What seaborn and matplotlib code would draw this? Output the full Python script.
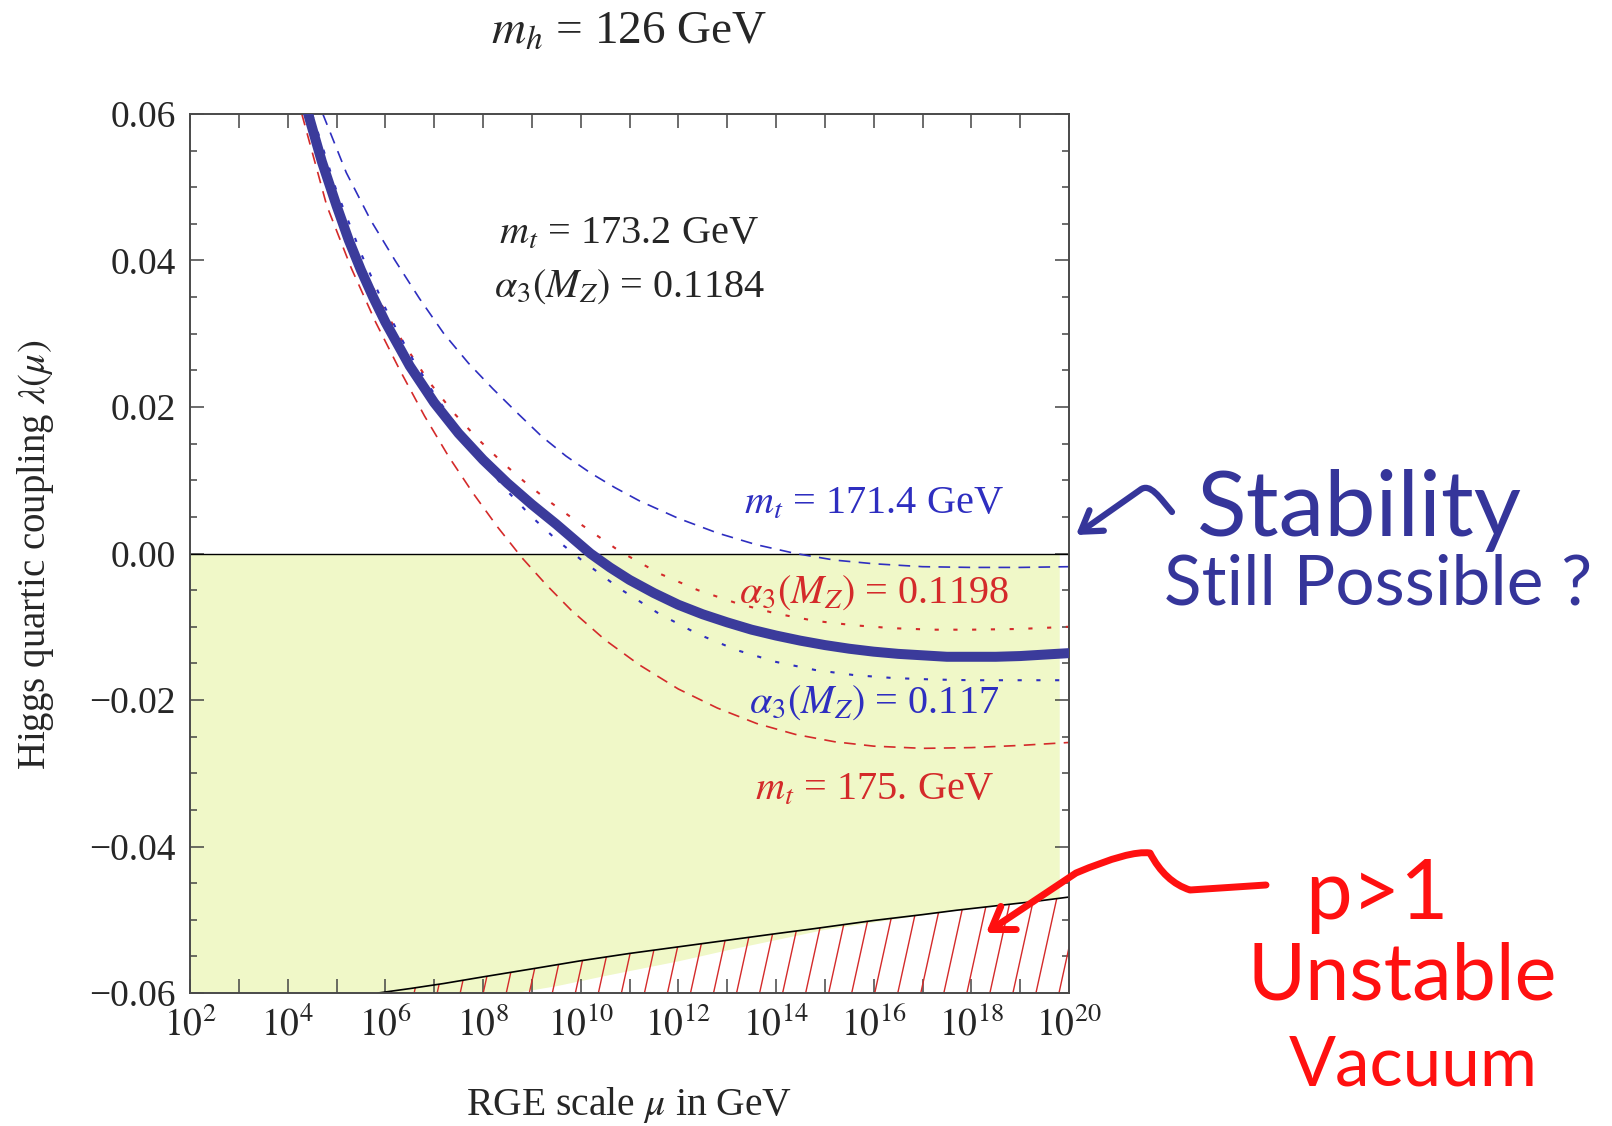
import numpy as np
import matplotlib
matplotlib.use("Agg")
import matplotlib.pyplot as plt
import seaborn as sns
from matplotlib.path import Path
from matplotlib.patches import FancyArrowPatch, Polygon
from matplotlib.collections import LineCollection
from matplotlib.ticker import NullLocator

# ---------------- data (log10 of mu in GeV, lambda) ----------------
central_exp = [4.42, 4.7, 5.0, 5.25, 5.5, 5.75, 6.0, 6.5, 7.0, 7.5, 8.0, 8.5, 9.0, 9.5, 9.85, 10.2,
               10.6, 11.0, 11.5, 12.0, 12.5, 13.0, 13.5, 14.0, 14.5, 15.0, 15.5, 16.0, 16.5, 17.0,
               17.5, 18.0, 18.5, 19.0, 19.5, 20.0]
central_lam = [0.060, 0.0535, 0.0475, 0.0428, 0.0387, 0.0350, 0.0316, 0.0256, 0.0206, 0.0164, 0.0128,
               0.0096, 0.0067, 0.0040, 0.0020, 0.0, -0.0019, -0.0036, -0.0054, -0.0070, -0.0083,
               -0.0094, -0.0104, -0.0112, -0.0119, -0.0125, -0.0130, -0.0134, -0.0137, -0.0139,
               -0.0141, -0.0141, -0.0141, -0.0140, -0.0138, -0.0136]

mt_low_exp = [4.72, 5.2, 5.7, 6.2, 6.7, 7.2, 7.7, 8.2, 8.7, 9.2, 9.7, 10.2, 10.7, 11.2, 12.0, 12.8,
              13.6, 14.4, 15.2, 16.0, 17.0, 18.0, 19.0, 20.0]
mt_low_lam = [0.060, 0.0520, 0.0455, 0.0400, 0.0348, 0.0300, 0.0260, 0.0225, 0.0192, 0.0160, 0.0133,
              0.0110, 0.0090, 0.0072, 0.0048, 0.0028, 0.0012, 0.0, -0.0009, -0.0014, -0.0018, -0.0019,
              -0.0019, -0.0018]

mt_high_exp = [4.29, 4.8, 5.3, 5.8, 6.3, 6.8, 7.3, 7.8, 8.3, 8.8, 9.3, 9.8, 10.5, 11.2, 12.0, 12.8,
               13.6, 14.4, 15.2, 16.0, 17.0, 18.0, 19.0, 20.0]
mt_high_lam = [0.060, 0.0475, 0.0390, 0.0316, 0.0250, 0.0188, 0.0132, 0.0082, 0.0036, -0.0006, -0.0043,
               -0.0077, -0.0118, -0.0152, -0.0185, -0.0211, -0.0232, -0.0247, -0.0257, -0.0263, -0.0266,
               -0.0265, -0.0262, -0.0258]

as_high_exp = [4.38, 4.9, 5.4, 5.9, 6.4, 6.9, 7.4, 7.9, 8.4, 8.9, 9.4, 10.0, 10.8, 11.6, 12.4, 13.2,
               14.0, 14.8, 15.6, 16.4, 17.2, 18.0, 19.0, 20.0]
as_high_lam = [0.060, 0.0490, 0.0410, 0.0342, 0.0284, 0.0234, 0.0192, 0.0156, 0.0124, 0.0095, 0.0069,
               0.0040, 0.0003, -0.0027, -0.0050, -0.0068, -0.0082, -0.0092, -0.0098, -0.0102, -0.0104,
               -0.0104, -0.0103, -0.0100]

as_low_exp = [4.5, 5.0, 5.5, 6.0, 6.5, 7.0, 7.5, 8.0, 8.5, 9.0, 9.5, 10.0, 10.8, 11.6, 12.4, 13.2,
              14.0, 14.8, 15.6, 16.4, 17.2, 18.0, 19.0, 20.0]
as_low_lam = [0.060, 0.0495, 0.0410, 0.0335, 0.0272, 0.0218, 0.0170, 0.0125, 0.0085, 0.0050, 0.0019,
              -0.0008, -0.0048, -0.0082, -0.0110, -0.0132, -0.0148, -0.0159, -0.0166, -0.0170, -0.0172,
              -0.0173, -0.0173, -0.0173]

unstable_exp = [5.85, 6.5, 7.2, 8.0, 9.1, 10.0, 11.0, 12.0, 13.0, 14.0, 14.8, 16.0, 17.0, 17.7, 18.5,
                19.3, 20.0]
unstable_lam = [-0.060, -0.0594, -0.0587, -0.0578, -0.0566, -0.0556, -0.0546, -0.0537, -0.0528, -0.0519,
                -0.0512, -0.0501, -0.0493, -0.0487, -0.0481, -0.0475, -0.0469]

yellow_exp = [2.0, 8.6, 9.5, 10.5, 12.0, 13.0, 14.0, 15.0, 16.5, 18.0, 19.8]
yellow_low = [-0.060, -0.060, -0.0590, -0.0576, -0.0556, -0.0541, -0.0527, -0.0513, -0.0498, -0.0484, -0.0470]

xtick_exp = list(range(2, 21))
xtick_labels = [r"$10^{%d}$" % e if e % 2 == 0 else "" for e in xtick_exp]
ytick_vals = [-0.06, -0.04, -0.02, 0.0, 0.02, 0.04, 0.06]
ytick_labels = ["\u22120.06", "\u22120.04", "\u22120.02", "0.00", "0.02", "0.04", "0.06"]

# ---------------- style ----------------
sns.set_theme(style="ticks")
plt.rcParams["font.family"] = ["Liberation Serif", "DejaVu Serif"]
plt.rcParams["mathtext.fontset"] = "stix"

W, H = 1612, 1126
fig = plt.figure(figsize=(W / 100, H / 100), dpi=100)
fig.patch.set_facecolor("white")
ax = fig.add_axes([190 / W, 1 - 993 / H, 879 / W, 879 / H])
ax.set_facecolor("white")

NAVY = "#3b3b9b"
BLUE = "#2e2ec0"
RED = "#d42a2a"
YELLOW = "#f0f8c8"

mu = lambda e: 10.0 ** np.asarray(e, dtype=float)

# yellow unstable band
ax.fill_between(mu(yellow_exp), yellow_low, 0.0, color=YELLOW, lw=0, zorder=0)

# hatched region
hatch_poly = Polygon(np.column_stack([mu(unstable_exp + [20.0, 5.85]),
                                      unstable_lam + [-0.06, -0.06]]),
                     closed=True, facecolor="none", edgecolor="none", zorder=0.5,
                     transform=ax.transData)
ax.add_patch(hatch_poly)
segs = []
for c in np.arange(-0.4, 1.05, 0.0262):
    segs.append([(c, 0.0), (c + 0.22, 1.0)])
lc = LineCollection(segs, colors=RED, linewidths=1.0, transform=ax.transAxes, zorder=0.6)
ax.add_collection(lc)
lc.set_clip_path(hatch_poly)
sns.lineplot(x=mu(unstable_exp), y=unstable_lam, ax=ax, color="black", lw=1.2, zorder=1, sort=False)

ax.axhline(0.0, color="black", lw=1.0, zorder=1)

# curves
sns.lineplot(x=mu(mt_low_exp), y=mt_low_lam, ax=ax, color=BLUE, lw=1.2, linestyle=(0, (7, 5)), zorder=2)
sns.lineplot(x=mu(mt_high_exp), y=mt_high_lam, ax=ax, color=RED, lw=1.2, linestyle=(0, (7, 5)), zorder=2)
sns.lineplot(x=mu(as_high_exp), y=as_high_lam, ax=ax, color=RED, lw=1.5, linestyle=(0, (2, 7)), zorder=2)
sns.lineplot(x=mu(as_low_exp), y=as_low_lam, ax=ax, color=BLUE, lw=1.5, linestyle=(0, (2, 7)), zorder=2)
sns.lineplot(x=mu(central_exp), y=central_lam, ax=ax, color=NAVY, lw=7.2, zorder=3,
             solid_joinstyle="round")

# axes
ax.set_xscale("log")
ax.set_xlim(1e2, 1e20)
ax.set_ylim(-0.06, 0.06)
ax.set_xticks(mu(xtick_exp))
ax.set_xticklabels(xtick_labels)
ax.xaxis.set_minor_locator(NullLocator())
ax.set_yticks(ytick_vals)
ax.set_yticklabels(ytick_labels)
ax.set_yticks(np.arange(-0.06, 0.0601, 0.005), minor=True)
ax.tick_params(axis="both", which="both", direction="in", top=True, right=True,
               color="#444444", width=1.1)
ax.tick_params(axis="x", which="major", length=10, labelsize=27, pad=10)
ax.tick_params(axis="y", which="major", length=10, labelsize=27, pad=10)
ax.tick_params(axis="y", which="minor", length=5)
for s in ax.spines.values():
    s.set_color("#4a4a4a")
    s.set_linewidth(1.4)
ax.set_xlabel("")
ax.set_ylabel("")

# titles and labels
fig.text(629 / W, 1 - 31 / H, r"$m_h$ = 126 GeV", ha="center", va="center", fontsize=34)
fig.text(629 / W, 1 - 1105 / H, r"RGE scale $\mu$ in GeV", ha="center", va="center", fontsize=28.5)
fig.text(36 / W, 1 - 555 / H, r"Higgs quartic coupling $\lambda(\mu)$", ha="center", va="center",
         rotation=90, fontsize=28)

ax.text(0.4994, 0.8635, r"$m_t$ = 173.2 GeV", transform=ax.transAxes, ha="center", va="center", fontsize=29)
ax.text(0.4994, 0.804, r"$\alpha_3(M_Z)$ = 0.1184", transform=ax.transAxes, ha="center", va="center", fontsize=29)
ax.text(0.778, 0.556, r"$m_t$ = 171.4 GeV", transform=ax.transAxes, ha="center", va="center", fontsize=29, color=BLUE)
ax.text(0.778, 0.455, r"$\alpha_3(M_Z)$ = 0.1198", transform=ax.transAxes, ha="center", va="center", fontsize=29, color=RED)
ax.text(0.778, 0.330, r"$\alpha_3(M_Z)$ = 0.117", transform=ax.transAxes, ha="center", va="center", fontsize=29, color=BLUE)
ax.text(0.779, 0.2304, r"$m_t$ = 175. GeV", transform=ax.transAxes, ha="center", va="center", fontsize=29, color=RED)

# hand-written annotations
HB = "#35359a"
HR = "#ff1010"
hand = ["Lato", "DejaVu Sans"]
fp = lambda x, y: (x / W, 1 - y / H)
fig.text(*fp(1359, 510), "Stability", ha="center", va="center", fontsize=66, color=HB, family=hand)
fig.text(*fp(1378, 585), "Still Possible ?", ha="center", va="center", fontsize=50, color=HB, family=hand)
fig.text(*fp(1377, 896), "p>1", ha="center", va="center", fontsize=60, color=HR, family=hand)
fig.text(*fp(1402, 978), "Unstable", ha="center", va="center", fontsize=57, color=HR, family=hand)
fig.text(*fp(1413, 1066), "Vacuum", ha="center", va="center", fontsize=50, color=HR, family=hand)

bpath = Path([fp(1172, 512), fp(1160, 498), fp(1150, 482), fp(1140, 490), fp(1076, 535)],
             [Path.MOVETO, Path.CURVE4, Path.CURVE4, Path.CURVE4, Path.LINETO])
fig.add_artist(FancyArrowPatch(path=bpath, arrowstyle="->,head_length=14,head_width=9",
                               lw=4.5, color=HB, transform=fig.transFigure, capstyle="round"))
rpath = Path([fp(1266, 885), fp(1190, 890), fp(1165, 882), fp(1150, 853),
              fp(1130, 850), fp(1076, 873), fp(986, 933)],
             [Path.MOVETO, Path.LINETO, Path.CURVE3, Path.CURVE3, Path.CURVE3, Path.CURVE3, Path.LINETO])
fig.add_artist(FancyArrowPatch(path=rpath, arrowstyle="->,head_length=15,head_width=10",
                               lw=5, color=HR, transform=fig.transFigure, capstyle="round"))

fig.savefig("out.png", dpi=100)
